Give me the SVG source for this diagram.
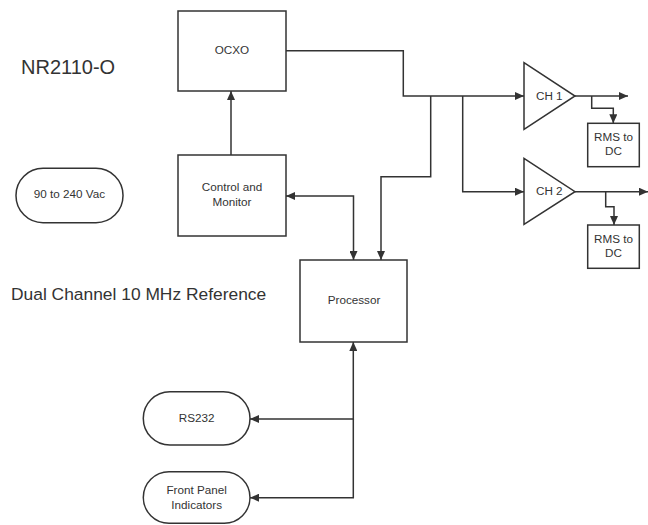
<svg xmlns="http://www.w3.org/2000/svg" width="648" height="525" viewBox="0 0 648 525">
<style>
.box{fill:#fff;stroke:#333;stroke-width:1.5}
.t{font-family:"Liberation Sans",Arial,sans-serif;font-size:11.7px;fill:#333;text-anchor:middle}
.big{font-family:"Liberation Sans",Arial,sans-serif;fill:#333}
.c{fill:none;stroke:#333;stroke-width:1.5}
</style>
<defs>
<marker id="ah" markerUnits="userSpaceOnUse" markerWidth="9" markerHeight="8" refX="9" refY="4" orient="auto-start-reverse">
<path d="M0,0 L9,4 L0,8 z" fill="#333"/>
</marker>
</defs>
<rect width="648" height="525" fill="#fff"/>
<text class="big" x="21" y="74" font-size="20">NR2110-O</text>
<text class="big" x="11" y="300" font-size="17.4">Dual Channel 10 MHz Reference</text>
<g id="connectors">
<path class="c" d="M231,155 V91" marker-end="url(#ah)"/>
<path class="c" d="M286,50.7 H403.3 V96 H524" marker-end="url(#ah)"/>
<path class="c" d="M430.7,96 V176.7 H381 V260" marker-end="url(#ah)"/>
<path class="c" d="M462.7,96 V191.7 H524" marker-end="url(#ah)"/>
<path class="c" d="M286,196 H353.5 V260" marker-start="url(#ah)" marker-end="url(#ah)"/>
<path class="c" d="M575,96 H628" marker-end="url(#ah)"/>
<path class="c" d="M591.7,96 V108.3 H613.3 V123.3" marker-end="url(#ah)"/>
<path class="c" d="M575,191.7 H648" marker-end="url(#ah)"/>
<path class="c" d="M605.7,191.7 V206.7 H614 V225" marker-end="url(#ah)"/>
<path class="c" d="M353.3,342 V419 H250" marker-start="url(#ah)" marker-end="url(#ah)"/>
<path class="c" d="M353.3,419 V497.7 H250" marker-end="url(#ah)"/>
</g>
<g id="ocxo"><rect class="box" x="178" y="11" width="108" height="80"/><text class="t" x="232" y="54">OCXO</text></g>
<g id="control"><rect class="box" x="178" y="155" width="108" height="81"/><text class="t" x="232" y="191">Control and</text><text class="t" x="232" y="206">Monitor</text></g>
<g id="processor"><rect class="box" x="300" y="260" width="107" height="82"/><text class="t" x="354" y="304">Processor</text></g>
<g id="power"><rect class="box" x="16" y="168.3" width="107" height="54.4" rx="27" ry="27"/><text class="t" x="69.5" y="198">90 to 240 Vac</text></g>
<g id="rs232"><rect class="box" x="143.3" y="391.7" width="106.7" height="53.3" rx="26.6" ry="26.6"/><text class="t" x="196.7" y="421.5">RS232</text></g>
<g id="frontpanel"><rect class="box" x="143.3" y="471.7" width="106.7" height="51.5" rx="25.7" ry="25.7"/><text class="t" x="196.7" y="493.5">Front Panel</text><text class="t" x="196.7" y="508.5">Indicators</text></g>
<g id="ch1"><path class="box" d="M524,62.7 L575,96 L524,129.3 Z"/><text class="t" x="549.3" y="99.5">CH 1</text></g>
<g id="ch2"><path class="box" d="M524,158.3 L575,191.7 L524,224.3 Z"/><text class="t" x="549.3" y="194.5">CH 2</text></g>
<g id="rms1"><rect class="box" x="587.7" y="123.3" width="51.6" height="43.4"/><text class="t" x="613.5" y="141">RMS to</text><text class="t" x="613.5" y="155">DC</text></g>
<g id="rms2"><rect class="box" x="587.7" y="225" width="51.6" height="43.3"/><text class="t" x="613.5" y="242.5">RMS to</text><text class="t" x="613.5" y="256.5">DC</text></g>
</svg>
